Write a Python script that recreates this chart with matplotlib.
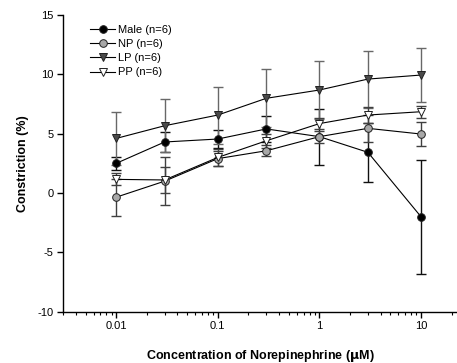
import matplotlib.pyplot as plt
import numpy as np

plt.rcParams["font.family"] = ["Liberation Sans", "DejaVu Sans"]
plt.rcParams["axes.unicode_minus"] = False

conc = [0.01, 0.03, 0.1, 0.3, 1, 3, 10]

male = [2.5, 4.3, 4.55, 5.4, 4.75, 3.43, -2.0]
male_err = [0.55, 0.87, 0.75, 1.1, 2.35, 2.48, 4.8]

np_mean = [-0.35, 1.0, 2.9, 3.56, 4.75, 5.45, 4.97]
np_err = [1.55, 2.0, 0.6, 0.45, 0.5, 1.13, 1.0]

lp = [4.6, 5.67, 6.57, 7.98, 8.68, 9.6, 9.94]
lp_err = [2.25, 2.23, 2.4, 2.45, 2.45, 2.4, 2.3]

pp = [1.15, 1.1, 3.0, 4.4, 5.85, 6.57, 6.85]
pp_err = [0.5, 1.1, 0.7, 0.6, 0.45, 0.65, 0.5]

fig = plt.figure(figsize=(4.57, 3.63), dpi=100)
ax = fig.add_axes([0.138, 0.1413, 0.862, 0.8174])

series = [
    ("Male (n=6)", male, male_err, "o", "black", "#101010"),
    ("NP (n=6)", np_mean, np_err, "o", "#a8a8a8", "#404040"),
    ("LP (n=6)", lp, lp_err, "v", "#4a4a4a", "#686868"),
    ("PP (n=6)", pp, pp_err, "v", "white", "#404040"),
]

for label, y, err, mk, face, ecol in series:
    ax.errorbar(
        conc, y, yerr=err,
        fmt="none", ecolor=ecol, elinewidth=1.0, capsize=3.5, capthick=1.0,
        zorder=2,
    )
    ax.plot(
        conc, y,
        color="black", lw=0.8, marker=mk, markersize=5.5,
        markerfacecolor=face, markeredgecolor="#202020", markeredgewidth=0.7,
        label=label, zorder=3,
    )

ax.set_xscale("log")
ax.set_xlim(0.003, 22.6)
ax.set_ylim(-10, 15)
ax.set_yticks([-10, -5, 0, 5, 10, 15])
ax.set_xticks([0.01, 0.1, 1, 10])
ax.set_xticklabels(["0.01", "0.1", "1", "10"])

for side in ["top", "right"]:
    ax.spines[side].set_visible(False)
for side in ["left", "bottom"]:
    ax.spines[side].set_linewidth(1.0)
ax.tick_params(which="major", direction="out", length=4, width=1, labelsize=8, pad=3)
ax.tick_params(which="minor", direction="out", length=2.5, width=0.8)
ax.tick_params(axis="y", which="minor", left=False)

ax.set_ylabel("Constriction (%)", fontsize=9, fontweight="bold", labelpad=6)
ax.set_xlabel("Concentration of Norepinephrine ($\\mathbf{\\mu}$M)",
              fontsize=9, fontweight="bold", labelpad=12)

ax.legend(
    loc="upper left", bbox_to_anchor=(0.058, 0.982), frameon=False,
    fontsize=8, handlelength=2.2, handletextpad=0.3, labelspacing=0.38,
    borderaxespad=0,
)

fig.savefig("out.png", dpi=100)
